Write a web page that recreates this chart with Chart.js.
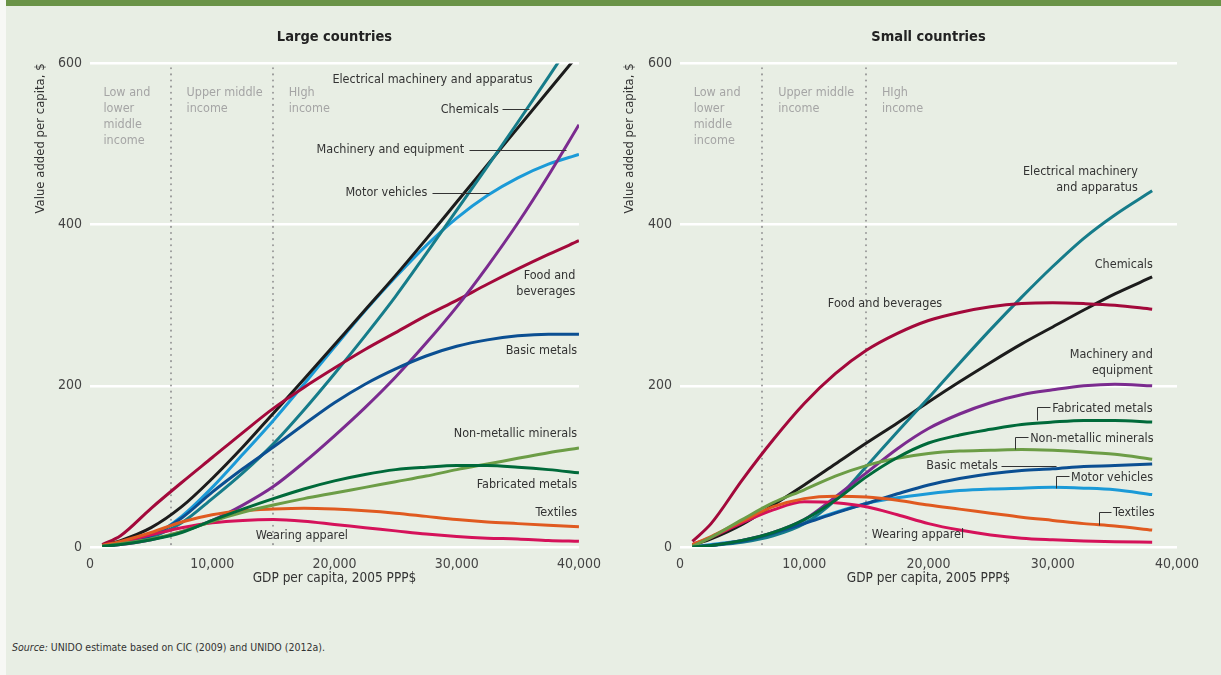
<!DOCTYPE html>
<html>
<head>
<meta charset="utf-8">
<script src="https://cdn.jsdelivr.net/npm/chart.js@4.4.1/dist/chart.umd.min.js"></script>
<style>
  body { margin: 0; background: #f7f8f5; font-family: "Liberation Sans Narrow", "DejaVu Sans Condensed", sans-serif; }
  #panel { position: absolute; left: 6px; top: 0; width: 1215px; height: 675px; background: #e8eee4; }
  #bar { position: absolute; left: 6px; top: 0; width: 1215px; height: 6px; background: #6a9347; }
  .box { position: absolute; top: 0; height: 600px; }
  #source { position: absolute; left: 12px; top: 641px; font-size: 10.5px; color: #333; }
</style>
</head>
<body>
<div id="panel"></div>
<div id="bar"></div>
<div class="box" style="left:0; width:610px;"><canvas id="large"></canvas></div>
<div class="box" style="left:610px; width:611px;"><canvas id="small"></canvas></div>
<div id="source"><i>Source:</i> UNIDO estimate based on CIC (2009) and UNIDO (2012a).</div>

<script>
// GDP per capita points (2005 PPP$)
var gdpLarge = [1000, 2500, 5000, 7500, 10000, 12500, 15000, 17500, 20000, 22500, 25000, 27500, 30000, 32500, 35000, 37500, 40000];
var gdpSmall = [1000, 2500, 5000, 7500, 10000, 12500, 15000, 17500, 20000, 22500, 25000, 27500, 30000, 32500, 35000, 38000];

// income group borders
var incomeBorders = [6600, 15000];
var incomeGroups = [
  { from: 1100, lines: ['Low and', 'lower', 'middle', 'income'] },
  { from: 7900, lines: ['Upper middle', 'income'] },
  { from: 16250, lines: ['HIgh', 'income'] }
];

var yTicks = [0, 200, 400, 600];
var xTicks = [0, 10000, 20000, 30000, 40000];

// large countries, value added per capita ($)
var lgElectrical = [1, 4, 12, 30, 60, 92, 128, 170, 215, 262, 311, 364, 418, 472, 527, 583, 640];
var lgChemicals  = [2, 8, 24, 50, 85, 124, 166, 208, 251, 294, 337, 382, 428, 474, 520, 566, 612];
var lgMachinery  = [1, 3, 9, 19, 33, 52, 75, 105, 138, 173, 211, 253, 298, 348, 402, 461, 524];
var lgMotor      = [1, 4, 13, 38, 74, 115, 157, 202, 248, 293, 335, 374, 408, 436, 458, 475, 487];
var lgFood       = [3, 14, 48, 80, 111, 142, 172, 198, 222, 245, 266, 287, 306, 326, 345, 363, 380];
var lgBasic      = [1, 4, 14, 36, 68, 97, 124, 152, 179, 202, 221, 237, 249, 257, 262, 264, 264];
var lgNonMet     = [1, 4, 10, 19, 32, 43, 52, 60, 67, 74, 81, 88, 96, 103, 110, 117, 123];
var lgFabricated = [1, 3, 9, 18, 33, 47, 60, 72, 82, 90, 96, 99, 101, 101, 99, 96, 92];
var lgTextiles   = [2, 7, 18, 31, 40, 45, 47, 48, 47, 45, 42, 38, 34, 31, 29, 27, 25];
var lgApparel    = [2, 6, 15, 24, 30, 33, 34, 32, 28, 24, 20, 16, 13, 11, 10, 8, 7];

// small countries
var smElectrical = [0, 2, 6, 14, 29, 58, 100, 143, 185, 228, 270, 310, 348, 383, 412, 442];
var smChemicals  = [2, 10, 28, 52, 77, 103, 129, 154, 180, 205, 229, 252, 273, 294, 314, 335];
var smMachinery  = [0, 2, 8, 18, 34, 62, 92, 122, 147, 165, 179, 189, 195, 200, 202, 200];
var smMotor      = [0, 3, 8, 17, 30, 43, 54, 61, 66, 70, 72, 73, 74, 73, 71, 65];
var smFood       = [7, 29, 83, 133, 178, 215, 244, 265, 281, 291, 298, 302, 303, 302, 300, 295];
var smBasic      = [0, 2, 7, 17, 29, 42, 54, 66, 77, 85, 91, 95, 97, 100, 101, 103];
var smNonMet     = [1, 12, 34, 55, 71, 88, 101, 110, 116, 119, 120, 121, 120, 118, 115, 109];
var smFabricated = [0, 2, 8, 18, 34, 58, 87, 111, 129, 139, 146, 152, 155, 157, 157, 155];
var smTextiles   = [3, 13, 32, 50, 60, 63, 62, 58, 52, 47, 42, 37, 33, 29, 26, 21];
var smApparel    = [3, 12, 30, 46, 56, 55, 50, 40, 29, 21, 15, 11, 9, 7.5, 6.6, 6];

var colors = {
  electrical: '#167c8a',
  chemicals: '#1c1c1c',
  machinery: '#7b2b8f',
  motor: '#1b9ad7',
  food: '#a3093b',
  basic: '#0b4f92',
  nonmet: '#6c9d46',
  fabricated: '#006a3a',
  textiles: '#e05a20',
  apparel: '#d5125a'
};

var FONT = '"Liberation Sans Narrow", "DejaVu Sans Condensed", sans-serif';

function pts(xs, ys) {
  return xs.map(function(x, i) { return { x: x, y: ys[i] }; });
}

function makeSets(xs, s) {
  var order = ['fabricated', 'nonmet', 'textiles', 'apparel', 'basic', 'machinery', 'food', 'electrical', 'chemicals', 'motor'];
  return order.map(function(k) {
    return {
      label: k,
      data: pts(xs, s[k]),
      borderColor: colors[k],
      borderWidth: 3,
      pointRadius: 0,
      cubicInterpolationMode: 'monotone',
      fill: false
    };
  });
}

// labels next to the lines, anchored in data units
var notesLarge = [
  { text: ['Electrical machinery and apparatus'], x: 36200, y: 580, align: 'right' },
  { text: ['Chemicals'], x: 33440, y: 543, align: 'right', lead: [[33700, 543], [35900, 543]] },
  { text: ['Machinery and equipment'], x: 30600, y: 493, align: 'right', lead: [[31000, 493], [38900, 493]] },
  { text: ['Motor vehicles'], x: 27600, y: 439, align: 'right', lead: [[27950, 439], [32650, 439]] },
  { text: ['Food and', 'beverages'], x: 39700, y: 336, align: 'right' },
  { text: ['Basic metals'], x: 39850, y: 243, align: 'right' },
  { text: ['Non-metallic minerals'], x: 39850, y: 141, align: 'right' },
  { text: ['Fabricated metals'], x: 39850, y: 77, align: 'right' },
  { text: ['Textiles'], x: 39850, y: 43, align: 'right' },
  { text: ['Wearing apparel'], x: 17330, y: 13.5, align: 'center' }
];

var notesSmall = [
  { text: ['Electrical machinery', 'and apparatus'], x: 36850, y: 465, align: 'right' },
  { text: ['Chemicals'], x: 38050, y: 350, align: 'right' },
  { text: ['Food and beverages'], x: 16500, y: 302, align: 'center' },
  { text: ['Machinery and', 'equipment'], x: 38050, y: 239, align: 'right' },
  { text: ['Fabricated metals'], x: 29950, y: 172, align: 'left', lead: [[29800, 174], [28750, 174], [28750, 157]] },
  { text: ['Non-metallic minerals'], x: 28180, y: 134, align: 'left', lead: [[28030, 136], [27000, 136], [27000, 121]] },
  { text: ['Basic metals'], x: 25580, y: 100.5, align: 'right', lead: [[25830, 100.5], [30300, 100.5]] },
  { text: ['Motor vehicles'], x: 31470, y: 85.5, align: 'left', lead: [[31320, 87.5], [30250, 87.5], [30250, 73]] },
  { text: ['Textiles'], x: 34850, y: 42, align: 'left', lead: [[34700, 44], [33700, 44], [33700, 27]] },
  { text: ['Wearing apparel'], x: 19150, y: 15, align: 'center' }
];

var notesPlugin = {
  id: 'notes',
  beforeDatasetsDraw: function(chart) {
    var ctx = chart.ctx, xs = chart.scales.x, ys = chart.scales.y;
    ctx.save();
    // income borders
    ctx.strokeStyle = '#9a9a9a';
    ctx.lineWidth = 2;
    ctx.lineCap = 'round';
    ctx.setLineDash([0.1, 6]);
    incomeBorders.forEach(function(v) {
      var px = Math.round(xs.getPixelForValue(v));
      ctx.beginPath();
      ctx.moveTo(px, ys.getPixelForValue(594));
      ctx.lineTo(px, ys.getPixelForValue(0));
      ctx.stroke();
    });
    ctx.setLineDash([]);
    ctx.fillStyle = '#a5a5a5';
    ctx.font = '12.5px ' + FONT;
    ctx.textAlign = 'left';
    ctx.textBaseline = 'middle';
    incomeGroups.forEach(function(g) {
      var px = xs.getPixelForValue(g.from);
      var py = ys.getPixelForValue(563);
      g.lines.forEach(function(t, i) { ctx.fillText(t, px, py + i * 16); });
    });
    ctx.restore();
  },
  afterDatasetsDraw: function(chart, args, opts) {
    var ctx = chart.ctx, xs = chart.scales.x, ys = chart.scales.y;
    ctx.save();
    ctx.font = '12.5px ' + FONT;
    ctx.fillStyle = '#333';
    ctx.strokeStyle = '#333';
    ctx.lineWidth = 1;
    ctx.textBaseline = 'middle';
    opts.items.forEach(function(n) {
      var px = xs.getPixelForValue(n.x), py = ys.getPixelForValue(n.y);
      ctx.textAlign = n.align;
      n.text.forEach(function(t, i) { ctx.fillText(t, px, py + i * 16); });
      if (n.lead) {
        ctx.beginPath();
        n.lead.forEach(function(p, i) {
          var lx = Math.round(xs.getPixelForValue(p[0])) + 0.5;
          var ly = Math.round(ys.getPixelForValue(p[1])) + 0.5;
          if (i === 0) ctx.moveTo(lx, ly); else ctx.lineTo(lx, ly);
        });
        ctx.stroke();
      }
    });
    ctx.restore();
  }
};

function makeChart(id, title, xs, series, notes, padL, yWidth, padR) {
  return new Chart(document.getElementById(id), {
    type: 'line',
    data: { datasets: makeSets(xs, series) },
    plugins: [notesPlugin],
    options: {
      responsive: true,
      maintainAspectRatio: false,
      animation: false,
      layout: { padding: { left: padL, right: padR, top: 0, bottom: 9 } },
      plugins: {
        legend: { display: false },
        tooltip: { enabled: false },
        title: {
          display: true,
          text: title,
          fullSize: false,
          color: '#222',
          font: { family: FONT, size: 14.5, weight: 'bold' },
          padding: { top: 29, bottom: 17 }
        },
        notes: { items: notes }
      },
      scales: {
        x: {
          type: 'linear',
          min: 0,
          max: 40000,
          afterBuildTicks: function(s) { s.ticks = xTicks.map(function(v) { return { value: v }; }); },
          afterFit: function(s) { s.height = 44; },
          grid: { display: false, drawTicks: false },
          border: { display: false },
          ticks: { color: '#444', padding: 9, font: { family: FONT, size: 14 }, maxRotation: 0 },
          title: { display: true, text: 'GDP per capita, 2005 PPP$', color: '#333', font: { family: FONT, size: 13.5 } }
        },
        y: {
          min: 0,
          max: 600,
          afterBuildTicks: function(s) { s.ticks = yTicks.map(function(v) { return { value: v }; }); },
          afterFit: function(s) { s.width = yWidth; },
          grid: { color: '#ffffff', lineWidth: 2.5, drawTicks: false },
          border: { display: false },
          ticks: { color: '#444', padding: 8, font: { family: FONT, size: 14 } },
          title: { display: true, text: 'Value added per capita, $', align: 'end', color: '#333', font: { family: FONT, size: 13 } }
        }
      }
    }
  });
}

makeChart('large', 'Large countries', gdpLarge, {
  electrical: lgElectrical, chemicals: lgChemicals, machinery: lgMachinery, motor: lgMotor,
  food: lgFood, basic: lgBasic, nonmet: lgNonMet, fabricated: lgFabricated,
  textiles: lgTextiles, apparel: lgApparel
}, notesLarge, 29, 61, 26);

makeChart('small', 'Small countries', gdpSmall, {
  electrical: smElectrical, chemicals: smChemicals, machinery: smMachinery, motor: smMotor,
  food: smFood, basic: smBasic, nonmet: smNonMet, fabricated: smFabricated,
  textiles: smTextiles, apparel: smApparel
}, notesSmall, 8, 62, 44);
</script>
</body>
</html>
